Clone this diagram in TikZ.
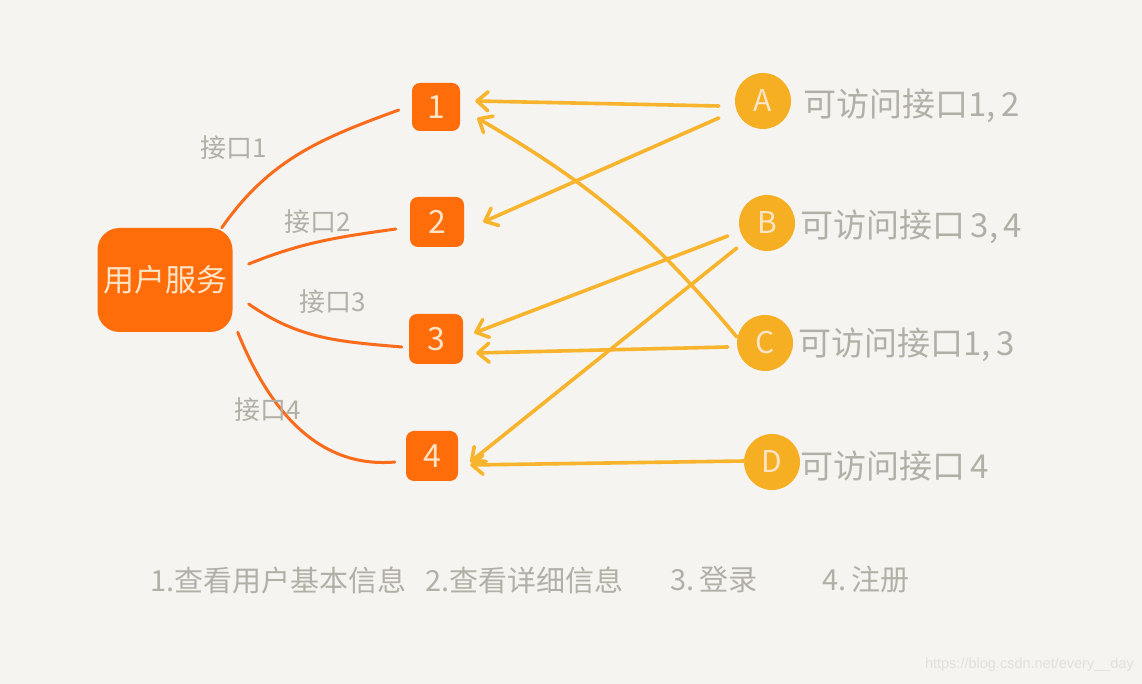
\documentclass[tikz,border=0pt]{standalone}
\usepackage{fontspec}
\newfontfamily\cjk{Noto Sans CJK SC}
\newfontfamily\wmfont{Liberation Sans}
\usetikzlibrary{arrows.meta}
\definecolor{bg}{HTML}{F5F4F0}
\definecolor{boxor}{HTML}{FF6C0A}
\definecolor{lineor}{HTML}{FA6B1C}
\definecolor{yel}{HTML}{F6AE22}
\definecolor{ylin}{HTML}{F7B42C}
\definecolor{gtxt}{HTML}{B2AFA6}
\definecolor{cream}{HTML}{FDE4C6}
\definecolor{wm}{HTML}{E2E0DA}
\tikzset{
  mainbox/.style={fill=boxor, rounded corners=22pt, minimum width=135pt, minimum height=104pt, inner sep=0pt, text=cream, font=\cjk\fontsize{31}{31}\selectfont},
  numbox/.style={fill=boxor, rounded corners=8pt, minimum width=50pt, minimum height=50pt, inner sep=0pt, text=cream, font=\cjk\fontsize{32}{32}\selectfont},
  letcirc/.style={circle, fill=yel, minimum size=56pt, inner sep=0pt, text=cream, font=\cjk\fontsize{30}{30}\selectfont},
  rlabel/.style={anchor=west, inner sep=0pt, text=gtxt, font=\cjk\fontsize{33}{33}\selectfont},
  elabel/.style={inner sep=0pt, text=gtxt, font=\cjk\fontsize{26}{26}\selectfont},
  blabel/.style={anchor=west, inner sep=0pt, text=gtxt, font=\cjk\fontsize{29}{29}\selectfont},
  oline/.style={draw=lineor, line width=3pt, line cap=round},
  yarrow/.style={draw=ylin, line width=3.6pt, line cap=round, -{Straight Barb[length=11pt,width=19pt,line cap=round,line join=round]}},
}
\begin{document}
\begin{tikzpicture}[x=1pt,y=1pt]
\fill[bg] (0,0) rectangle (1142,684);
\useasboundingbox (0,0) rectangle (1142,684);

% nodes
\node[mainbox] (u) at (165,404) {用户服务};
\node[numbox, minimum width=48pt, minimum height=48pt] (n1) at (436,577) {1};
\node[numbox, minimum width=54pt] (n2) at (437,462) {2};
\node[numbox, minimum width=54pt] (n3) at (436,345) {3};
\node[numbox, minimum width=52pt] (n4) at (432,228) {4};

\node[letcirc] (A) at (763,583) {A};
\node[letcirc] (B) at (767,461) {B};
\node[letcirc] (C) at (765,341) {C};
\node[letcirc] (D) at (772,222) {D};

\node[rlabel] (LA) at (803,578) {可访问接口1,\,2};
\node[rlabel] (LB) at (800,457) {可访问接口\,3,\,4};
\node[rlabel] (LC) at (798,339) {可访问接口1,\,3};
\node[rlabel] (LD) at (800,218) {可访问接口\,4};

% orange edges
\draw[oline] ([xshift=-11pt]u.north east) to[out=55,in=200] ([shift={(-13pt,-3pt)}]n1.west);
\draw[oline] ([shift={(16pt,16pt)}]u.east) to[out=22,in=188] ([shift={(-14pt,-7pt)}]n2.west);
\draw[oline] ([shift={(16pt,-24pt)}]u.east) to[out=-35,in=175] ([shift={(-7pt,-8pt)}]n3.west);
\draw[oline] ([xshift=5pt]u.south east) to[out=-68,in=185] ([shift={(-11pt,-6pt)}]n4.west);

% edge labels
\node[elabel] (e1) at (234,536) {接口1};
\node[elabel] (e2) at (318,462) {接口2};
\node[elabel] (e3) at (333,382) {接口3};
\node[elabel] (e4) at (268,274) {接口4};

% yellow arrows
\draw[yarrow] ([shift={(-16pt,-5pt)}]A.west) -- ([shift={(15pt,6pt)}]n1.east);
\draw[yarrow] ([shift={(-16pt,-17pt)}]A.west) -- ([shift={(19pt,0pt)}]n2.east);
\draw[yarrow] ([shift={(-11pt,-13pt)}]B.west) -- ([shift={(11pt,6pt)}]n3.east);
\draw[yarrow] ([shift={(-2pt,-25pt)}]B.west) -- ([shift={(12pt,-6pt)}]n4.east);
\draw[yarrow] ([shift={(-0pt,6pt)}]C.west) to[bend right=10] ([shift={(17pt,-11pt)}]n1.east);
\draw[yarrow] ([shift={(-9pt,-4pt)}]C.west) -- ([shift={(13pt,-14pt)}]n3.east);
\draw[yarrow] ([shift={(1pt,1pt)}]D.west) -- ([shift={(12pt,-9pt)}]n4.east);

% bottom legend
\node[blabel] (b1) at (150,104) {1.查看用户基本信息};
\node[blabel] (b2) at (425,104) {2.查看详细信息};
\node[blabel] (b3) at (670,104) {3.\,登录};
\node[blabel] (b4) at (822,104) {4.\,注册};

% watermark
\node[anchor=east, inner sep=0pt, text=wm, font=\wmfont\fontsize{14.5}{14.5}\selectfont] (wmk) at (1134,19) {https://blog.csdn.net/every\_\_day};
\end{tikzpicture}
\end{document}
